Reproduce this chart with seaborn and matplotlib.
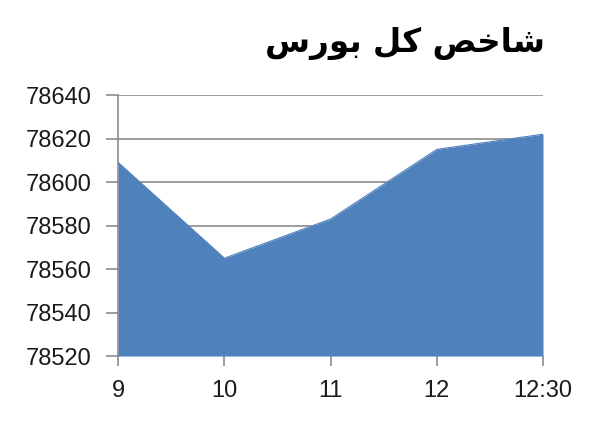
import numpy as np
import pandas as pd
import matplotlib
matplotlib.use("Agg")
import matplotlib.pyplot as plt
import seaborn as sns

# shaped title (Arabic presentation forms, visual order) for "شاخص کل بورس"
title_text = "\uFEB1\uFEAD\uFEEE\uFE91 \uFEDE\uFB90 \uFEBA\uFEA7\uFE8E\uFEB7"

hours = ["9", "10", "11", "12", "12:30"]
index_values = [78609, 78565, 78583, 78615, 78622]
y_ticks = [78520, 78540, 78560, 78580, 78600, 78620, 78640]

sns.set_theme(style="white")
plt.rcParams['font.family'] = ['Liberation Sans', 'DejaVu Sans']

df = pd.DataFrame({"hour": hours, "value": index_values})
df["pos"] = np.arange(len(df))

fig = plt.figure(figsize=(6, 4.3), dpi=100)
ax = fig.add_axes([0.197, 0.172, 0.708, 0.607])

area_color = "#4F81BD"
ax.fill_between(df["pos"], y_ticks[0], df["value"], color=area_color, zorder=3, linewidth=0)
sns.lineplot(data=df, x="pos", y="value", ax=ax, color=area_color, linewidth=0.8, zorder=3)

ax.set_xlim(df["pos"].min(), df["pos"].max())
ax.set_ylim(y_ticks[0], y_ticks[-1])
ax.set_yticks(y_ticks)
ax.set_yticklabels([str(v) for v in y_ticks], fontsize=17, color="#1a1a1a")
ax.set_xticks(df["pos"])
ax.set_xticklabels(hours, fontsize=17, color="#1a1a1a")
ax.set_xlabel("")
ax.set_ylabel("")

ax.grid(axis="y", color="#8c8c8c", linewidth=1.2, zorder=1)
ax.grid(axis="x", visible=False)
for side in ["top", "right", "bottom"]:
    ax.spines[side].set_visible(False)
ax.spines["left"].set_color("#8c8c8c")
ax.spines["left"].set_linewidth(1.2)
ax.tick_params(axis="y", length=9, width=1.2, color="#8c8c8c", pad=10, left=True)
ax.tick_params(axis="x", length=7, width=1.2, color="#8c8c8c", pad=10, bottom=True, direction="out")

fig.text(0.908, 0.9, title_text, ha="right", va="center", fontsize=23.5,
         fontweight="bold", family=["DejaVu Sans"], color="black")

fig.savefig("out.png", dpi=100, facecolor="white")
